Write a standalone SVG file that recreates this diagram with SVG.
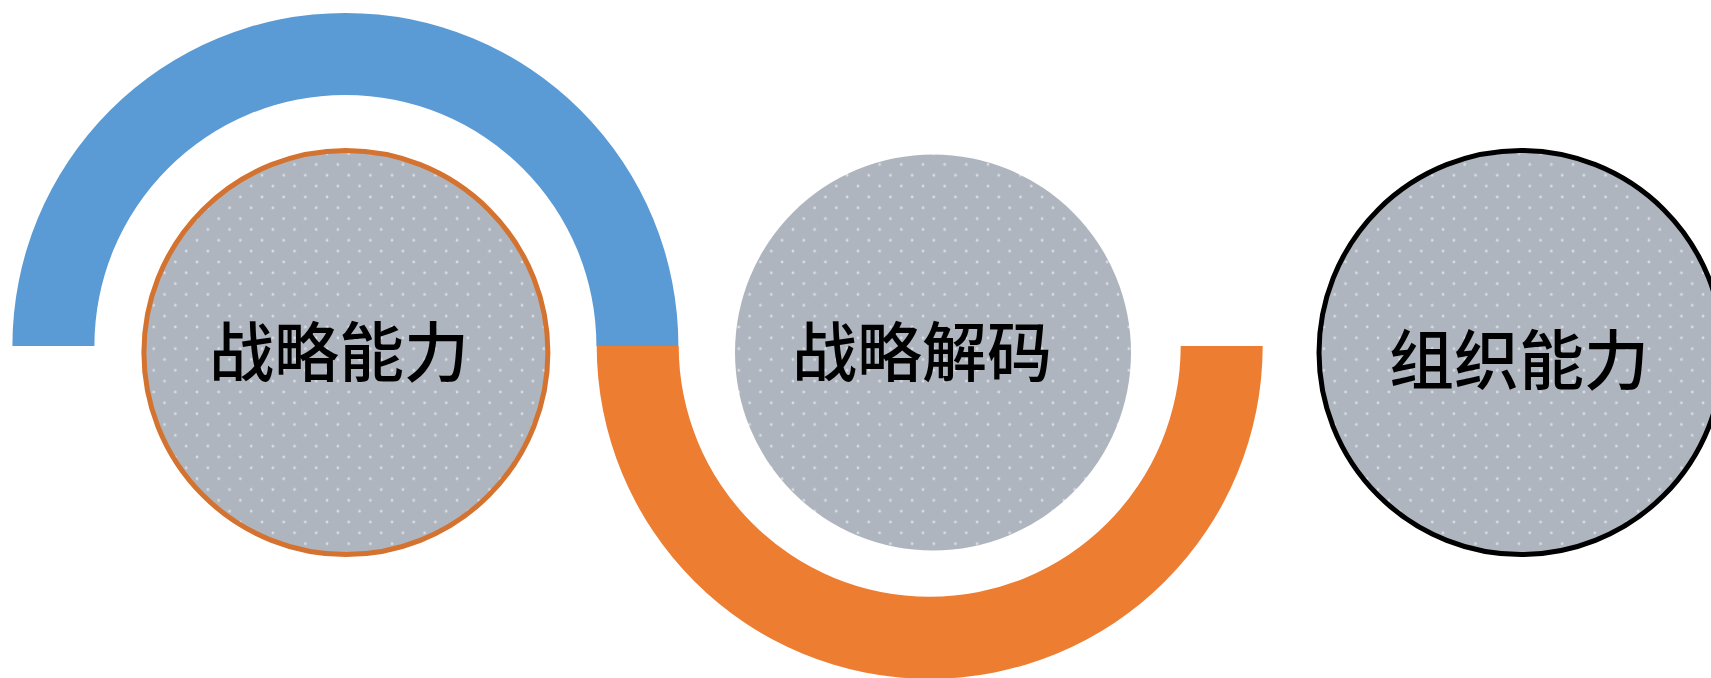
<svg xmlns="http://www.w3.org/2000/svg" width="1711" height="678" viewBox="0 0 1711 678">
<style>
.lbl{font-family:"Noto Sans CJK SC","Noto Sans CJK JP",sans-serif;font-size:65px;font-weight:500;fill:#000;text-anchor:middle}
.disc{fill:url(#dots)}
</style>
<defs>
<pattern id="dots" patternUnits="userSpaceOnUse" width="21.67" height="21.67">
<rect width="21.67" height="21.67" fill="#AEB5BF"/>
<circle cx="2" cy="2" r="1.4" fill="#D9DDE3"/>
<circle cx="12.83" cy="12.83" r="1.4" fill="#D9DDE3"/>
</pattern>
</defs>
<rect width="1711" height="678" fill="#FFFFFF"/>
<g id="connectors">
<path d="M 12.4 345.9 A 333 333 0 0 1 678.4 345.9 L 596.4 345.9 A 251 251 0 0 0 94.4 345.9 Z" fill="#5B9BD5"/>
<path d="M 596.7 345.9 A 333 333 0 0 0 1262.7 345.9 L 1180.7 345.9 A 251 251 0 0 1 678.7 345.9 Z" fill="#ED7D31"/>
</g>
<g id="node-zhanlue-nengli">
<circle class="disc" cx="345.9" cy="352.5" r="202" stroke="#D4722F" stroke-width="5"/>
<text class="lbl" x="339" y="376">战略能力</text>
</g>
<g id="node-zhanlue-jiema">
<circle class="disc" cx="933" cy="352.5" r="198"/>
<text class="lbl" x="922" y="376">战略解码</text>
</g>
<g id="node-zuzhi-nengli">
<circle class="disc" cx="1521" cy="352.5" r="202" stroke="#000000" stroke-width="5"/>
<text class="lbl" x="1519" y="384">组织能力</text>
</g>
</svg>
